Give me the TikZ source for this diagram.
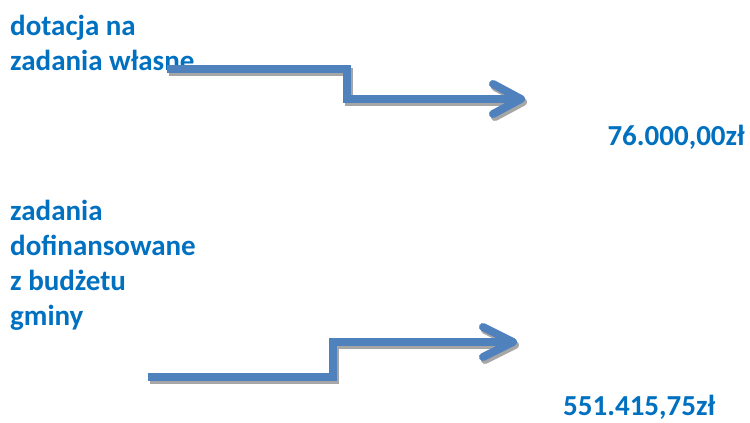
\documentclass[tikz,border=0pt]{standalone}
\usepackage{fontspec}
\setmainfont{Carlito}
\definecolor{txtblue}{HTML}{0070C0}
\definecolor{arrblue}{HTML}{4F81BD}
\definecolor{shadowgray}{HTML}{A6A6A6}
\begin{document}
\begin{tikzpicture}[x=1pt,y=-1pt,
    label/.style={inner sep=0pt, text=txtblue, font=\fontsize{29}{35}\selectfont\bfseries, align=left},
    arrline/.style={draw=arrblue, line width=8pt, line join=miter},
    shadowline/.style={draw=shadowgray, line width=8pt, line join=miter},
    wing/.style={draw=arrblue, line width=8pt, line cap=round, line join=round},
    shadowwing/.style={draw=shadowgray, line width=8pt, line cap=round, line join=round}]
  \useasboundingbox (0,0) rectangle (750,423);

  % labels
  \node[label, anchor=base west] (own) at (10,70) {dotacja na\\zadania własne};
  \node[label, anchor=base west] (cofund) at (10,325) {zadania\\dofinansowane\\z budżetu\\gminy};
  \node[label, anchor=base east] (sumown) at (745,145) {76.000,00zł};
  \node[label, anchor=base west] (sumcofund) at (563,415) {551.415,75zł};

  % shadows
  \begin{scope}[shift={(2,3)}]
    \draw[shadowline] (167,69) -- (347,69) -- (347,99) -- (517,99);
    \draw[shadowwing] (493,84) -- (521,99) -- (493,114);
    \draw[shadowline] (148,377) -- (333,377) -- (333,342) -- (509,342);
    \draw[shadowwing] (483,327) -- (513,342) -- (483,357);
  \end{scope}

  % step arrows
  \draw[arrline] (167,69) -- (347,69) -- (347,99) -- (517,99);
  \draw[wing] (493,84) -- (521,99) -- (493,114);
  \draw[arrline] (148,377) -- (333,377) -- (333,342) -- (509,342);
  \draw[wing] (483,327) -- (513,342) -- (483,357);
\end{tikzpicture}
\end{document}
